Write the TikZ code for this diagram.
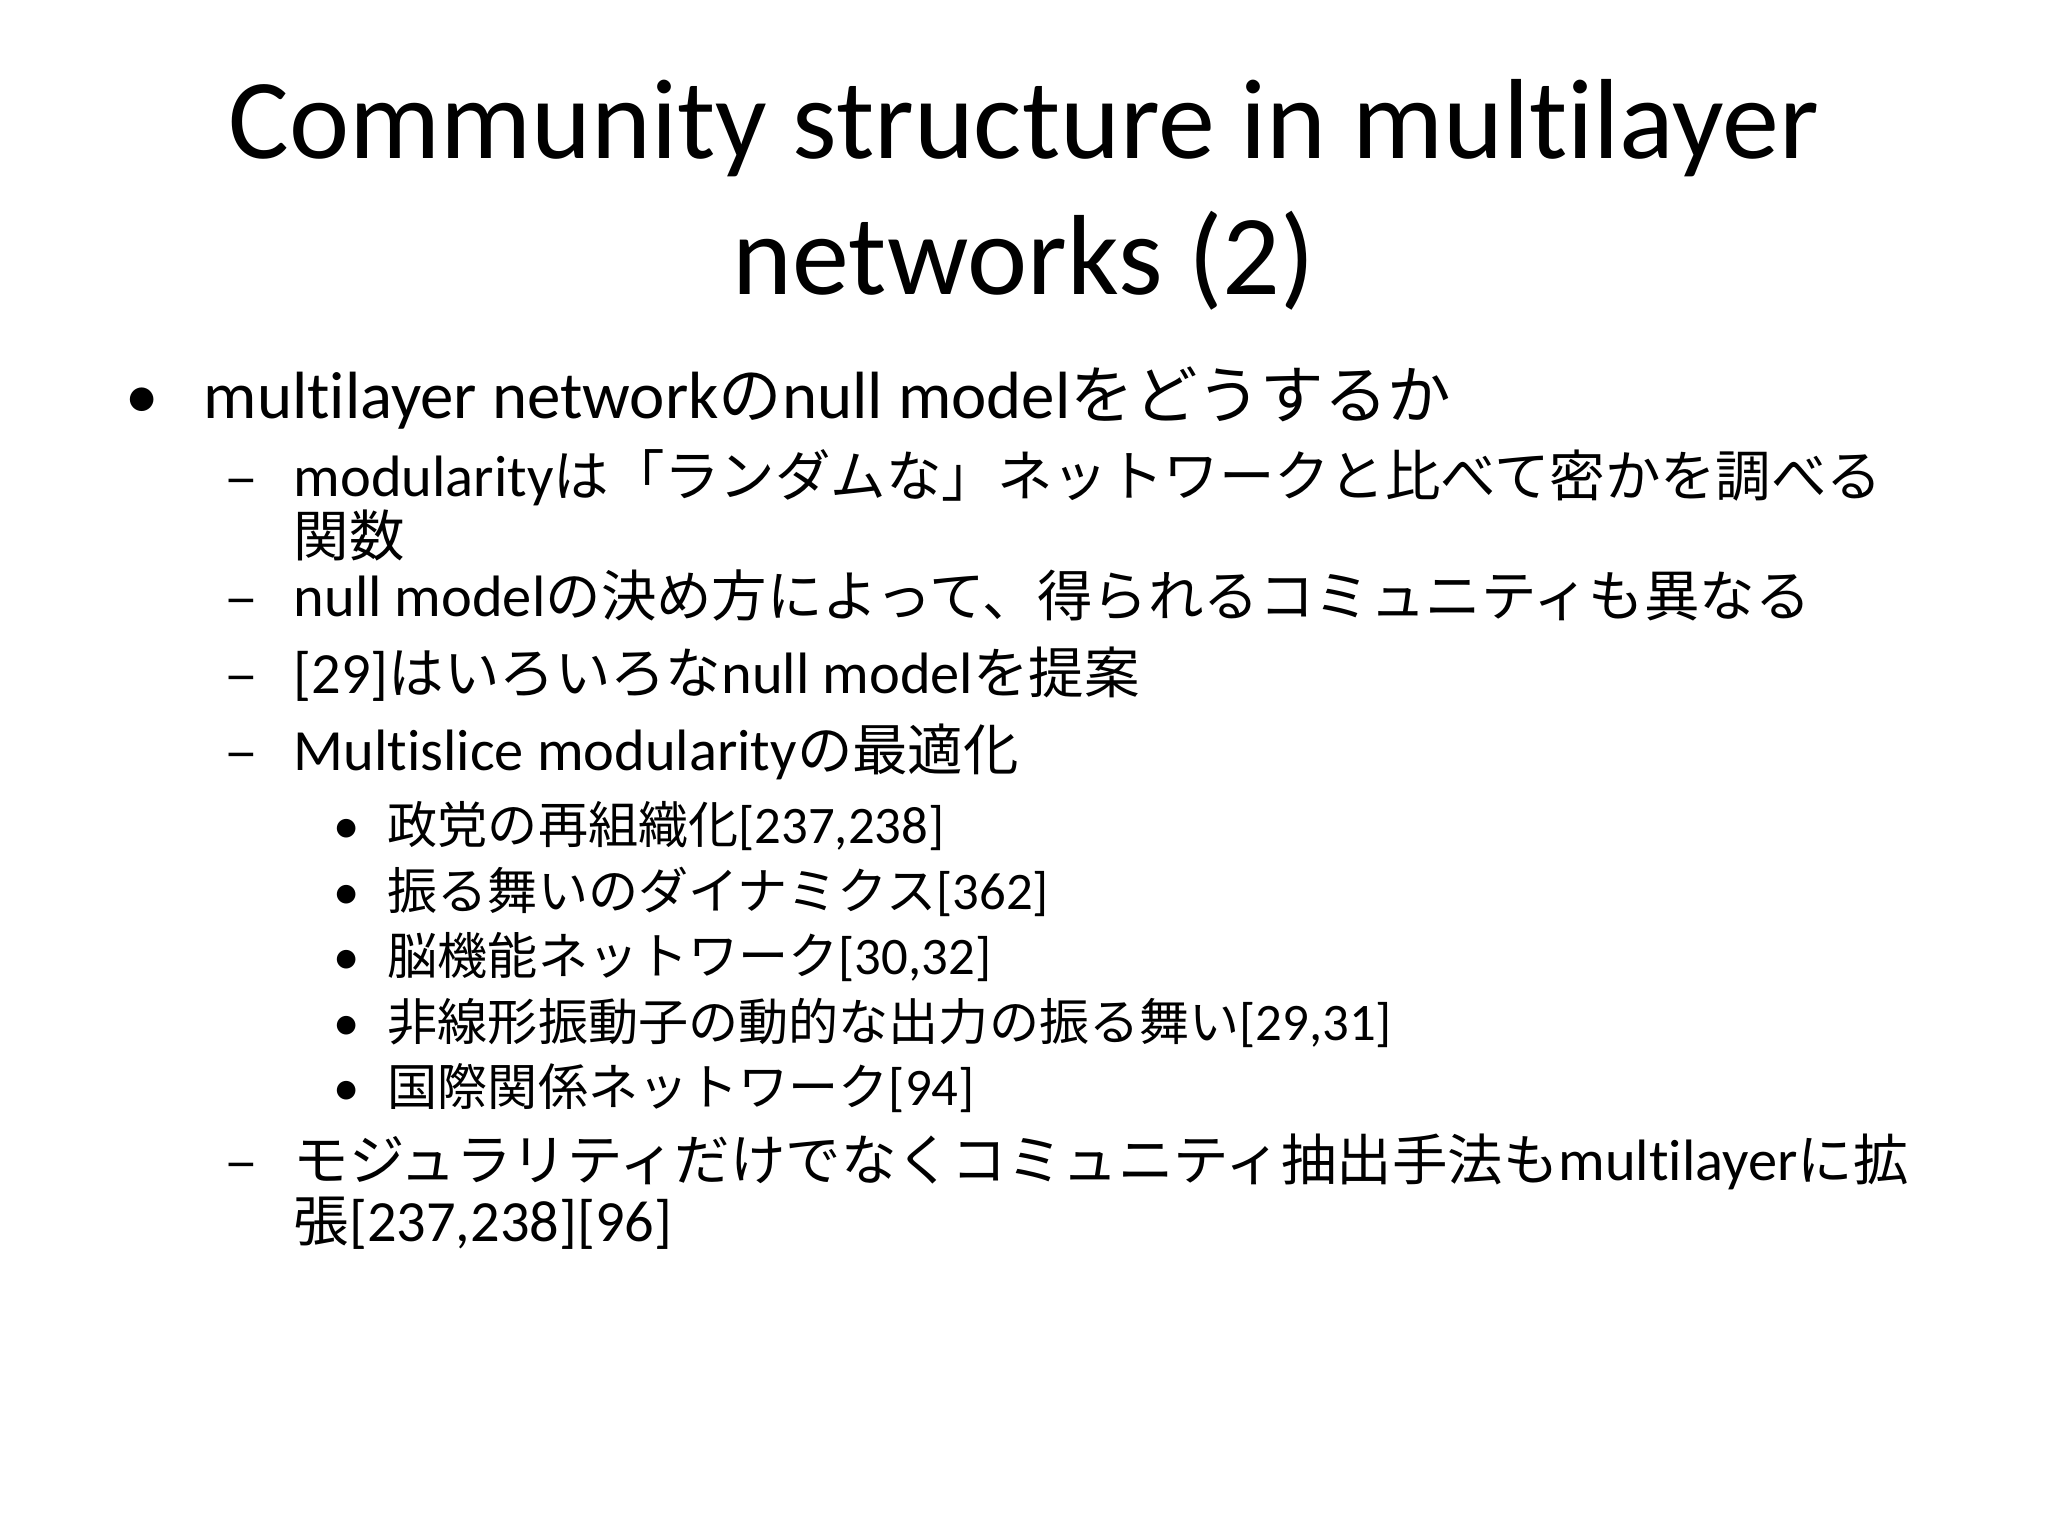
\documentclass[tikz,border=0pt]{standalone}
\usepackage{fontspec}
\setmainfont{Carlito}[Ligatures=NoCommon]
\newfontfamily\jpf{Noto Sans CJK JP}[Scale=0.95]
\newcommand{\J}[1]{{\jpf #1}}
\begin{document}
\begin{tikzpicture}[x=0.01cm,y=-0.01cm,
  tl/.style={anchor=base,font=\fontsize{32.4}{36}\selectfont},
  la/.style={anchor=base west,inner sep=0pt,font=\fontsize{19}{22}\selectfont},
  lb/.style={anchor=base west,inner sep=0pt,font=\fontsize{16.6}{19}\selectfont},
  lc/.style={anchor=base west,inner sep=0pt,font=\fontsize{15}{17}\selectfont}]
\useasboundingbox (0,0) rectangle (2048,1536);
\fill[white] (0,0) rectangle (2048,1536);
\node[tl] (t1) at (1024,158) {Community structure in multilayer};
\node[tl] (t2) at (1024,294) {networks (2)};
% level 1
\node[la] (b1) at (125,418) {\textbullet};
\node[la] (l1) at (203,418) {multilayer network\J{の}null model\J{をどうするか}};
% level 2
\foreach \y/\n in {496/d1,616/d2,693/d3,770/d4,1180/d5}{\node[lb] (\n) at (226,\y) {\jpf –};}
\node[lb] (a1) at (293,496) {modularity\J{は「ランダムな」ネットワークと比べて密かを調べる}};
\node[lb] (a1b) at (293,556) {\J{関数}};
\node[lb] (a2) at (293,616) {null model\J{の決め方によって、得られるコミュニティも異なる}};
\node[lb] (a3) at (293,693) {[29]\J{はいろいろな}null model\J{を提案}};
\node[lb] (a4) at (293,770) {Multislice modularity\J{の最適化}};
% level 3
\foreach \y/\n in {843/e1,909/e2,974/e3,1040/e4,1105/e5}{\node[lc] (\n) at (333,\y) {\textbullet};}
\node[lc] (c1) at (387,843) {\J{政党の再組織化}[237,238]};
\node[lc] (c2) at (387,909) {\J{振る舞いのダイナミクス}[362]};
\node[lc] (c3) at (387,974) {\J{脳機能ネットワーク}[30,32]};
\node[lc] (c4) at (387,1040) {\J{非線形振動子の動的な出力の振る舞い}[29,31]};
\node[lc] (c5) at (387,1105) {\J{国際関係ネットワーク}[94]};
\node[lb] (a5) at (293,1180) {\J{モジュラリティだけでなくコミュニティ抽出手法も}multilayer\J{に拡}};
\node[lb] (a5b) at (293,1241) {\J{張}[237,238][96]};
\end{tikzpicture}
\end{document}
